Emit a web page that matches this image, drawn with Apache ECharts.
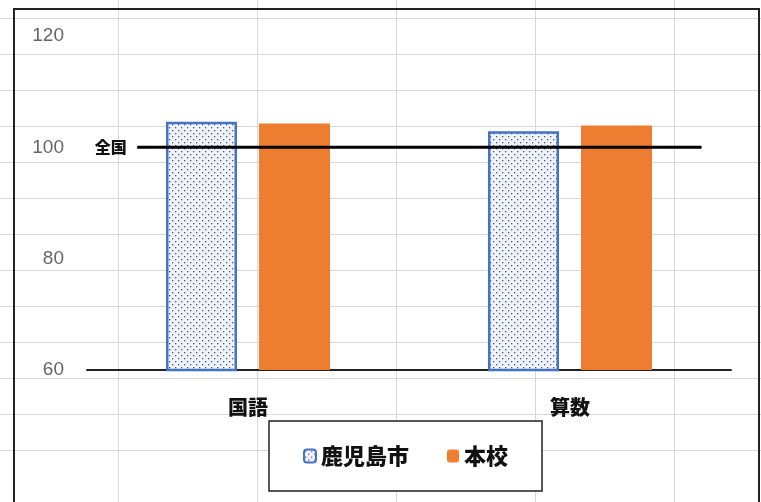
<!DOCTYPE html>
<html>
<head>
<meta charset="utf-8">
<script src="https://cdn.jsdelivr.net/npm/echarts@6/dist/echarts.min.js"></script>
<style>
  html, body { margin: 0; padding: 0; }
  body {
    width: 761px; height: 502px; overflow: hidden; position: relative;
    background-color: #ffffff;
    background-image:
      repeating-linear-gradient(to bottom, transparent 0, transparent 35px, #d8d8d8 35px, #d8d8d8 36px),
      repeating-linear-gradient(to right, transparent 0, transparent 138px, #d8d8d8 138px, #d8d8d8 139px);
    background-position: 0 -17px, -20px 0;
  }
  #frame {
    position: absolute; left: 13px; top: 8px; width: 747px; height: 520px;
    border: 2px solid #222; box-sizing: border-box;
  }
  #chart { position: absolute; left: 0; top: 0; width: 761px; height: 502px; }
</style>
</head>
<body>
<div id="frame"></div>
<div id="chart"></div>
<script>
// ---- data ----
const categories = ['国語', '算数'];
const seriesNames = ['鹿児島市', '本校'];
const kagoshimaValues = [104.6, 102.9];
const schoolValues = [104.3, 103.9];
const nationalName = '全国';
const nationalValue = 100;
const yTicks = [60, 80, 100, 120];

// ---- layout constants ----
const LINE_START = 0.078;  // fraction of plot width
const LINE_END = 0.954;

// dotted pattern for 鹿児島市
function makePattern() {
  const c = document.createElement('canvas');
  c.width = 6; c.height = 6;
  const g = c.getContext('2d');
  g.fillStyle = '#eef3fb';
  g.fillRect(0, 0, 6, 6);
  g.fillStyle = '#4f5666';
  g.fillRect(1, 1, 1.3, 1.3);
  g.fillRect(4, 4, 1.3, 1.3);
  return c;
}
const pattern = { image: makePattern(), repeat: 'repeat' };

const chart = echarts.init(document.getElementById('chart'), null, { renderer: 'canvas' });
const cjk = '"Noto Sans CJK JP", "Noto Sans", sans-serif';

chart.setOption({
  animation: false,
  backgroundColor: 'transparent',
  grid: { left: 87, right: 30, top: 36, bottom: 132, containLabel: false },
  legend: {
    data: seriesNames,
    left: 269, top: 421,
    orient: 'horizontal',
    padding: [24, 34, 24, 34],
    itemGap: 38,
    itemWidth: 12, itemHeight: 13,
    borderColor: '#222', borderWidth: 1.5,
    backgroundColor: '#ffffff',
    textStyle: { fontFamily: cjk, fontWeight: 900, fontSize: 22, color: '#111' }
  },
  xAxis: [{
    type: 'category',
    data: categories,
    axisLine: { show: true, lineStyle: { color: '#222', width: 2 } },
    axisTick: { show: false },
    axisLabel: { margin: 27, fontFamily: cjk, fontWeight: 900, fontSize: 20, color: '#111' },
    splitLine: { show: false }
  }, {
    type: 'value', min: 0, max: 1, show: false
  }],
  yAxis: {
    type: 'value', min: yTicks[0], max: yTicks[yTicks.length - 1], interval: 20,
    axisLine: { show: false }, axisTick: { show: false },
    splitLine: { show: false },
    axisLabel: { margin: 23, fontFamily: '"Liberation Sans", Arial, sans-serif', fontSize: 19, color: '#666' }
  },
  series: [{
    name: seriesNames[0],
    type: 'bar',
    data: kagoshimaValues,
    barWidth: 71,
    barGap: '31%',
    itemStyle: { color: pattern, borderColor: '#4472C4', borderWidth: 2.5 }
  }, {
    name: seriesNames[1],
    type: 'bar',
    data: schoolValues,
    barWidth: 71,
    barGap: '31%',
    itemStyle: { color: '#ED7D31' }
  }, {
    name: nationalName,
    type: 'line',
    xAxisIndex: 1,
    data: [
      { value: [LINE_START, nationalValue], label: { show: true, position: 'left', distance: 10, formatter: nationalName } },
      { value: [LINE_END, nationalValue] }
    ],
    symbol: 'circle', symbolSize: 1, showSymbol: true,
    itemStyle: { color: '#000' },
    lineStyle: { color: '#000', width: 3 },
    label: { show: false, fontFamily: cjk, fontWeight: 900, fontSize: 16, color: '#111' },
    z: 5
  }]
});
</script>
</body>
</html>
